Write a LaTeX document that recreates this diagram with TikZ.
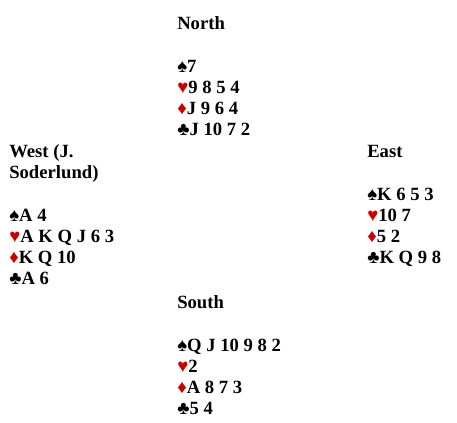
\documentclass[tikz,border=0pt]{standalone}
\usepackage{fontspec}
\setmainfont{Liberation Serif}
\definecolor{suitred}{RGB}{200,0,0}
\newcommand{\spd}{♠}
\newcommand{\hrt}{\textcolor{suitred}{♥}}
\newcommand{\dmd}{\textcolor{suitred}{♦}}
\newcommand{\clb}{♣}
\begin{document}
\begin{tikzpicture}[x=0.75pt, y=-0.75pt,
          hand/.style={anchor=base west, inner sep=0pt, align=left,
                       font=\bfseries\fontsize{14}{15.9}\selectfont}]
        \useasboundingbox (0,0) rectangle (457,423);
        % base = baseline of the last (club) line
        \node[hand] (north) at (177,136) {North\\ \\
          \spd7\\ \hrt9 8 5 4\\ \dmd J 9 6 4\\ \clb J 10 7 2};
        \node[hand] (west) at (9,285) {West (J.\\ Soderlund)\\ \\
          \spd A 4\\ \hrt A K Q J 6 3\\ \dmd K Q 10\\ \clb A 6};
        \node[hand] (east) at (367,264) {East\\ \\
          \spd K 6 5 3\\ \hrt10 7\\ \dmd5 2\\ \clb K Q 9 8};
        \node[hand] (south) at (177,415) {South\\ \\
          \spd Q J 10 9 8 2\\ \hrt2\\ \dmd A 8 7 3\\ \clb5 4};
      \end{tikzpicture}
\end{document}
